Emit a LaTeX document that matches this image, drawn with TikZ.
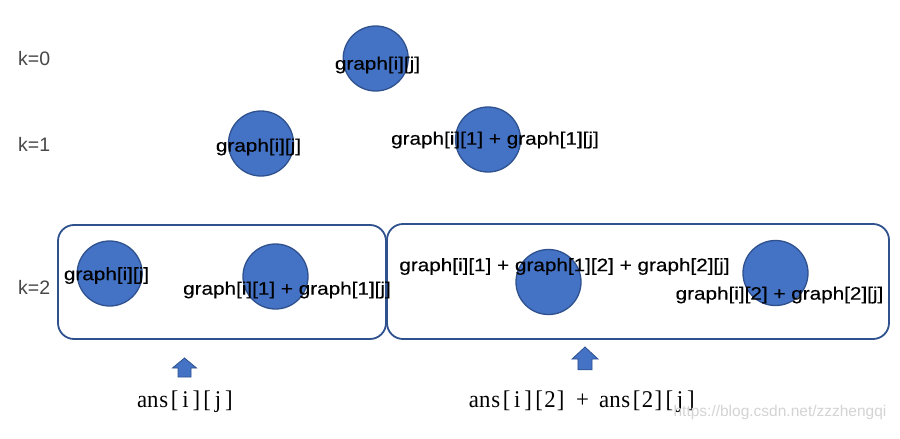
\documentclass[tikz,border=0pt]{standalone}
\usepackage{fontspec}
\setmainfont{Liberation Sans}
\newfontfamily\yhfont[FakeStretch=1.15,FakeBold=0.3]{Liberation Sans}
\newfontfamily\msfont[FakeStretch=0.95]{Liberation Serif}
\newcommand\mc[1]{\makebox[10.85pt]{#1}}
\definecolor{fillblue}{HTML}{4472C4}
\definecolor{edgeblue}{HTML}{2F528F}
\begin{document}
\begin{tikzpicture}[x=1pt,y=-1pt,
  vert/.style={circle, fill=fillblue, draw=edgeblue, line width=1.3pt, minimum size=65pt, inner sep=0},
  lbl/.style={font=\yhfont\fontsize{18}{20}\selectfont, inner sep=0, text=black},
  klbl/.style={font=\fontsize{19.5}{22}\selectfont, text=black!72, inner sep=0, anchor=west},
  grp/.style={draw=edgeblue, line width=1.8pt, rounded corners=16pt, inner sep=0},
  anslbl/.style={font=\msfont\fontsize{24}{26}\selectfont, inner sep=0},
  uparr/.style={fill=fillblue, draw=edgeblue, line width=0.8pt, line join=miter},
  uparrow/.pic={\draw[uparr] (0,0) -- (12,10) -- (6.5,10) -- (6.5,19) -- (-6.5,19) -- (-6.5,10) -- (-12,10) -- cycle;},
  wm/.style={font=\fontsize{15.5}{17}\selectfont, text=black!17, inner sep=0}]
\useasboundingbox (0,0) rectangle (900,439);
\fill[white] (0,0) rectangle (900,439);
% level labels
\node[klbl] (k0) at (18,59) {k=0};
\node[klbl] (k1) at (18,144.5) {k=1};
\node[klbl] (k2) at (18,287.5) {k=2};
% group boxes
\node[grp, minimum width=328pt, minimum height=114pt] (box1) at (222,282) {};
\node[grp, minimum width=502pt, minimum height=115pt] (box2) at (638,281.5) {};
% circles
\node[vert] (c0) at (375.7,58.5) {};
\node[vert] (c1a) at (261,143.5) {};
\node[vert] (c1b) at (488,139.5) {};
\node[vert] (c2a) at (109.7,273.5) {};
\node[vert] (c2b) at (275.5,276.5) {};
\node[vert] (c2c) at (548.5,282) {};
\node[vert] (c2d) at (775.5,273) {};
% labels
\node[lbl] (t0) at (377.5,65) {graph[i][j]};
\node[lbl] (t1a) at (258.5,147) {graph[i][j]};
\node[lbl] (t1b) at (495,140) {graph[i][1] + graph[1][j]};
\node[lbl] (t2a) at (106.5,275.5) {graph[i][j]};
\node[lbl] (t2b) at (287,290) {graph[i][1] + graph[1][j]};
\node[lbl] (t2c) at (564.5,266.5) {graph[i][1] + graph[1][2] + graph[2][j]};
\node[lbl] (t2d) at (779.5,295) {graph[i][2] + graph[2][j]};
% arrows
\pic at (184.5,358) {uparrow};
\pic[xscale=1.08, yscale=1.2] at (585,347) {uparrow};
% answers
\node[anslbl] (a1) at (185.5,401.5) {\mc{a}\mc{n}\mc{s}\mc{[}\mc{i}\mc{]}\mc{[}\mc{j}\mc{]}};
\node[anslbl] (a2) at (582.5,401.5) {\mc{a}\mc{n}\mc{s}\mc{[}\mc{i}\mc{]}\mc{[}\mc{2}\mc{]}\mc{}\mc{+}\mc{}\mc{a}\mc{n}\mc{s}\mc{[}\mc{2}\mc{]}\mc{[}\mc{j}\mc{]}};
% watermark
\node[wm] (wm) at (780,412) {https://blog.csdn.net/zzzhengqi};
\end{tikzpicture}
\end{document}
